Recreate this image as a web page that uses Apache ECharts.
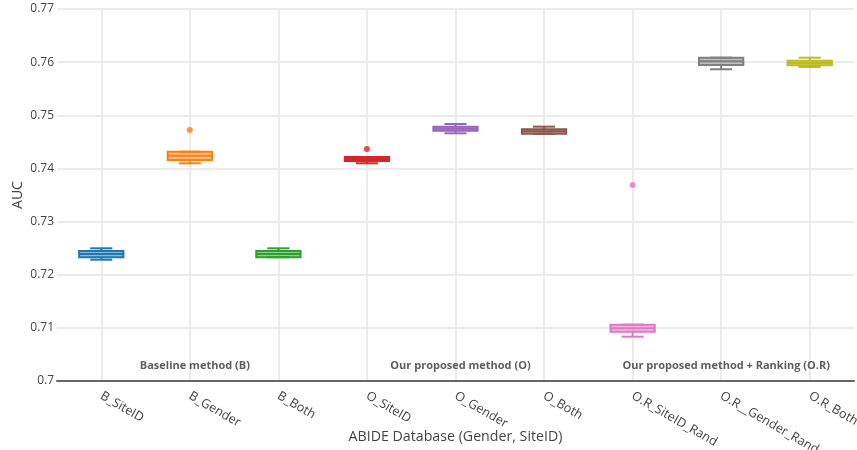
<!DOCTYPE html>
<html>
<head>
<meta charset="utf-8">
<script src="https://cdn.jsdelivr.net/npm/echarts@6/dist/echarts.min.js"></script>
<style>html,body{margin:0;padding:0;background:#fff}#c{width:857px;height:450px}</style>
</head>
<body>
<div id="c"></div>
<script>
// Categories
const categories = ["B_SiteID","B_Gender","B_Both","O_SiteID","O_Gender","O_Both","O.R_SiteID_Rand","O.R__Gender_Rand","O.R_Both"];
// Box stats: [min, q1, median, q3, max]
const boxMin    = [0.72283, 0.74097, 0.72330, 0.74097, 0.74661, 0.74654, 0.70834, 0.75866, 0.75909];
const boxQ1     = [0.72328, 0.74159, 0.72330, 0.74140, 0.74710, 0.74654, 0.70928, 0.75947, 0.75941];
const boxMedian = [0.72390, 0.74240, 0.72390, 0.74178, 0.74748, 0.74698, 0.70992, 0.76016, 0.75984];
const boxQ3     = [0.72446, 0.74315, 0.72446, 0.74215, 0.74786, 0.74736, 0.71060, 0.76084, 0.76028];
const boxMax    = [0.72497, 0.74315, 0.72497, 0.74215, 0.74836, 0.74786, 0.71060, 0.76084, 0.76084];
// Outliers: category index and value
const outlierCat   = [1, 3, 6];
const outlierValue = [0.74723, 0.74366, 0.73690];
// Group annotations
const groupLabels = ["Baseline method (B)", "Our proposed method (O)", "Our proposed method + Ranking (O.R)"];
const groupCat    = [1, 4, 7];
const groupY      = 0.70282;
// Y ticks
const yMin = 0.70, yMax = 0.77, yStep = 0.01;

const colors = ["#1f77b4","#ff7f0e","#2ca02c","#d62728","#9467bd","#8c564b","#e377c2","#7f7f7f","#bcbd22"];
const FONT = "'Open Sans', 'Noto Sans', sans-serif";

function hexA(hex, a){
  const n = parseInt(hex.slice(1),16);
  return `rgba(${(n>>16)&255},${(n>>8)&255},${n&255},${a})`;
}

const boxData = categories.map((c,i)=>[i, boxMin[i], boxQ1[i], boxMedian[i], boxQ3[i], boxMax[i]]);

function renderBox(params, api){
  const i = api.value(0);
  const col = colors[params.dataIndex];
  const band = api.size([1,0])[0];
  const hw = band*0.25, cw = hw*0.5;
  const pMin = api.coord([i, api.value(1)]);
  const pQ1 = api.coord([i, api.value(2)]);
  const pMed = api.coord([i, api.value(3)]);
  const pQ3 = api.coord([i, api.value(4)]);
  const pMax = api.coord([i, api.value(5)]);
  const cx = pMed[0];
  const ls = {stroke: col, lineWidth: 2, fill: null};
  return {type:'group', children:[
    {type:'line', shape:{x1:cx,y1:pQ1[1],x2:cx,y2:pMin[1]}, style:ls},
    {type:'line', shape:{x1:cx,y1:pQ3[1],x2:cx,y2:pMax[1]}, style:ls},
    {type:'line', shape:{x1:cx-cw,y1:pMin[1],x2:cx+cw,y2:pMin[1]}, style:ls},
    {type:'line', shape:{x1:cx-cw,y1:pMax[1],x2:cx+cw,y2:pMax[1]}, style:ls},
    {type:'rect', shape:{x:cx-hw,y:pQ3[1],width:2*hw,height:pQ1[1]-pQ3[1]}, style:{fill:hexA(col,0.5), stroke:col, lineWidth:2}},
    {type:'line', shape:{x1:cx-hw,y1:pMed[1],x2:cx+hw,y2:pMed[1]}, style:ls}
  ]};
}

const chart = echarts.init(document.getElementById('c'), null, {renderer:'canvas'});
chart.setOption({
  animation:false,
  backgroundColor:'#fff',
  textStyle:{fontFamily:FONT},
  grid:{left:57, right:3, top:9, bottom:69, containLabel:false, outerBoundsMode:'none'},
  xAxis:{
    type:'category', data:categories,
    name:'ABIDE Database (Gender, SiteID)', nameLocation:'middle', nameGap:49, nameMoveOverlap:false,
    nameTextStyle:{fontSize:14.2, color:'#444', fontFamily:FONT},
    axisLine:{show:true, onZero:false, lineStyle:{color:'#666', width:2}},
    axisTick:{show:false},
    axisLabel:{rotate:-30, fontSize:12.6, color:'#444', margin:14, fontFamily:FONT, interval:0, hideOverlap:false},
    splitLine:{show:true, alignWithLabel:true, lineStyle:{color:'#ebebeb', width:2}}
  },
  yAxis:{
    type:'value', min:yMin, max:yMax, interval:yStep,
    name:'AUC', nameLocation:'middle', nameGap:32, nameMoveOverlap:false,
    nameTextStyle:{fontSize:14, color:'#444', fontFamily:FONT},
    axisLine:{show:false}, axisTick:{show:false},
    axisLabel:{fontSize:12, color:'#444', margin:3, fontFamily:FONT, formatter:v=>String(+v.toFixed(2))},
    splitLine:{show:true, lineStyle:{color:'#ebebeb', width:2}}
  },
  series:[
    {type:'custom', data:boxData, renderItem:renderBox, encode:{x:0, y:[1,2,3,4,5]}, z:3},
    {type:'scatter', symbolSize:6, z:4,
     data: outlierCat.map((c,k)=>({value:[c, outlierValue[k]], itemStyle:{color:colors[c]}}))},
    {type:'scatter', symbolSize:0, z:5, silent:true,
     data: groupLabels.map((t,k)=>({value:[groupCat[k], groupY], name:t})),
     label:{show:true, position:'inside', offset:[5,0], formatter:p=>p.name, fontSize:11, fontWeight:'bold', color:'#333', fontFamily:FONT}}
  ]
});
</script>
</body>
</html>
